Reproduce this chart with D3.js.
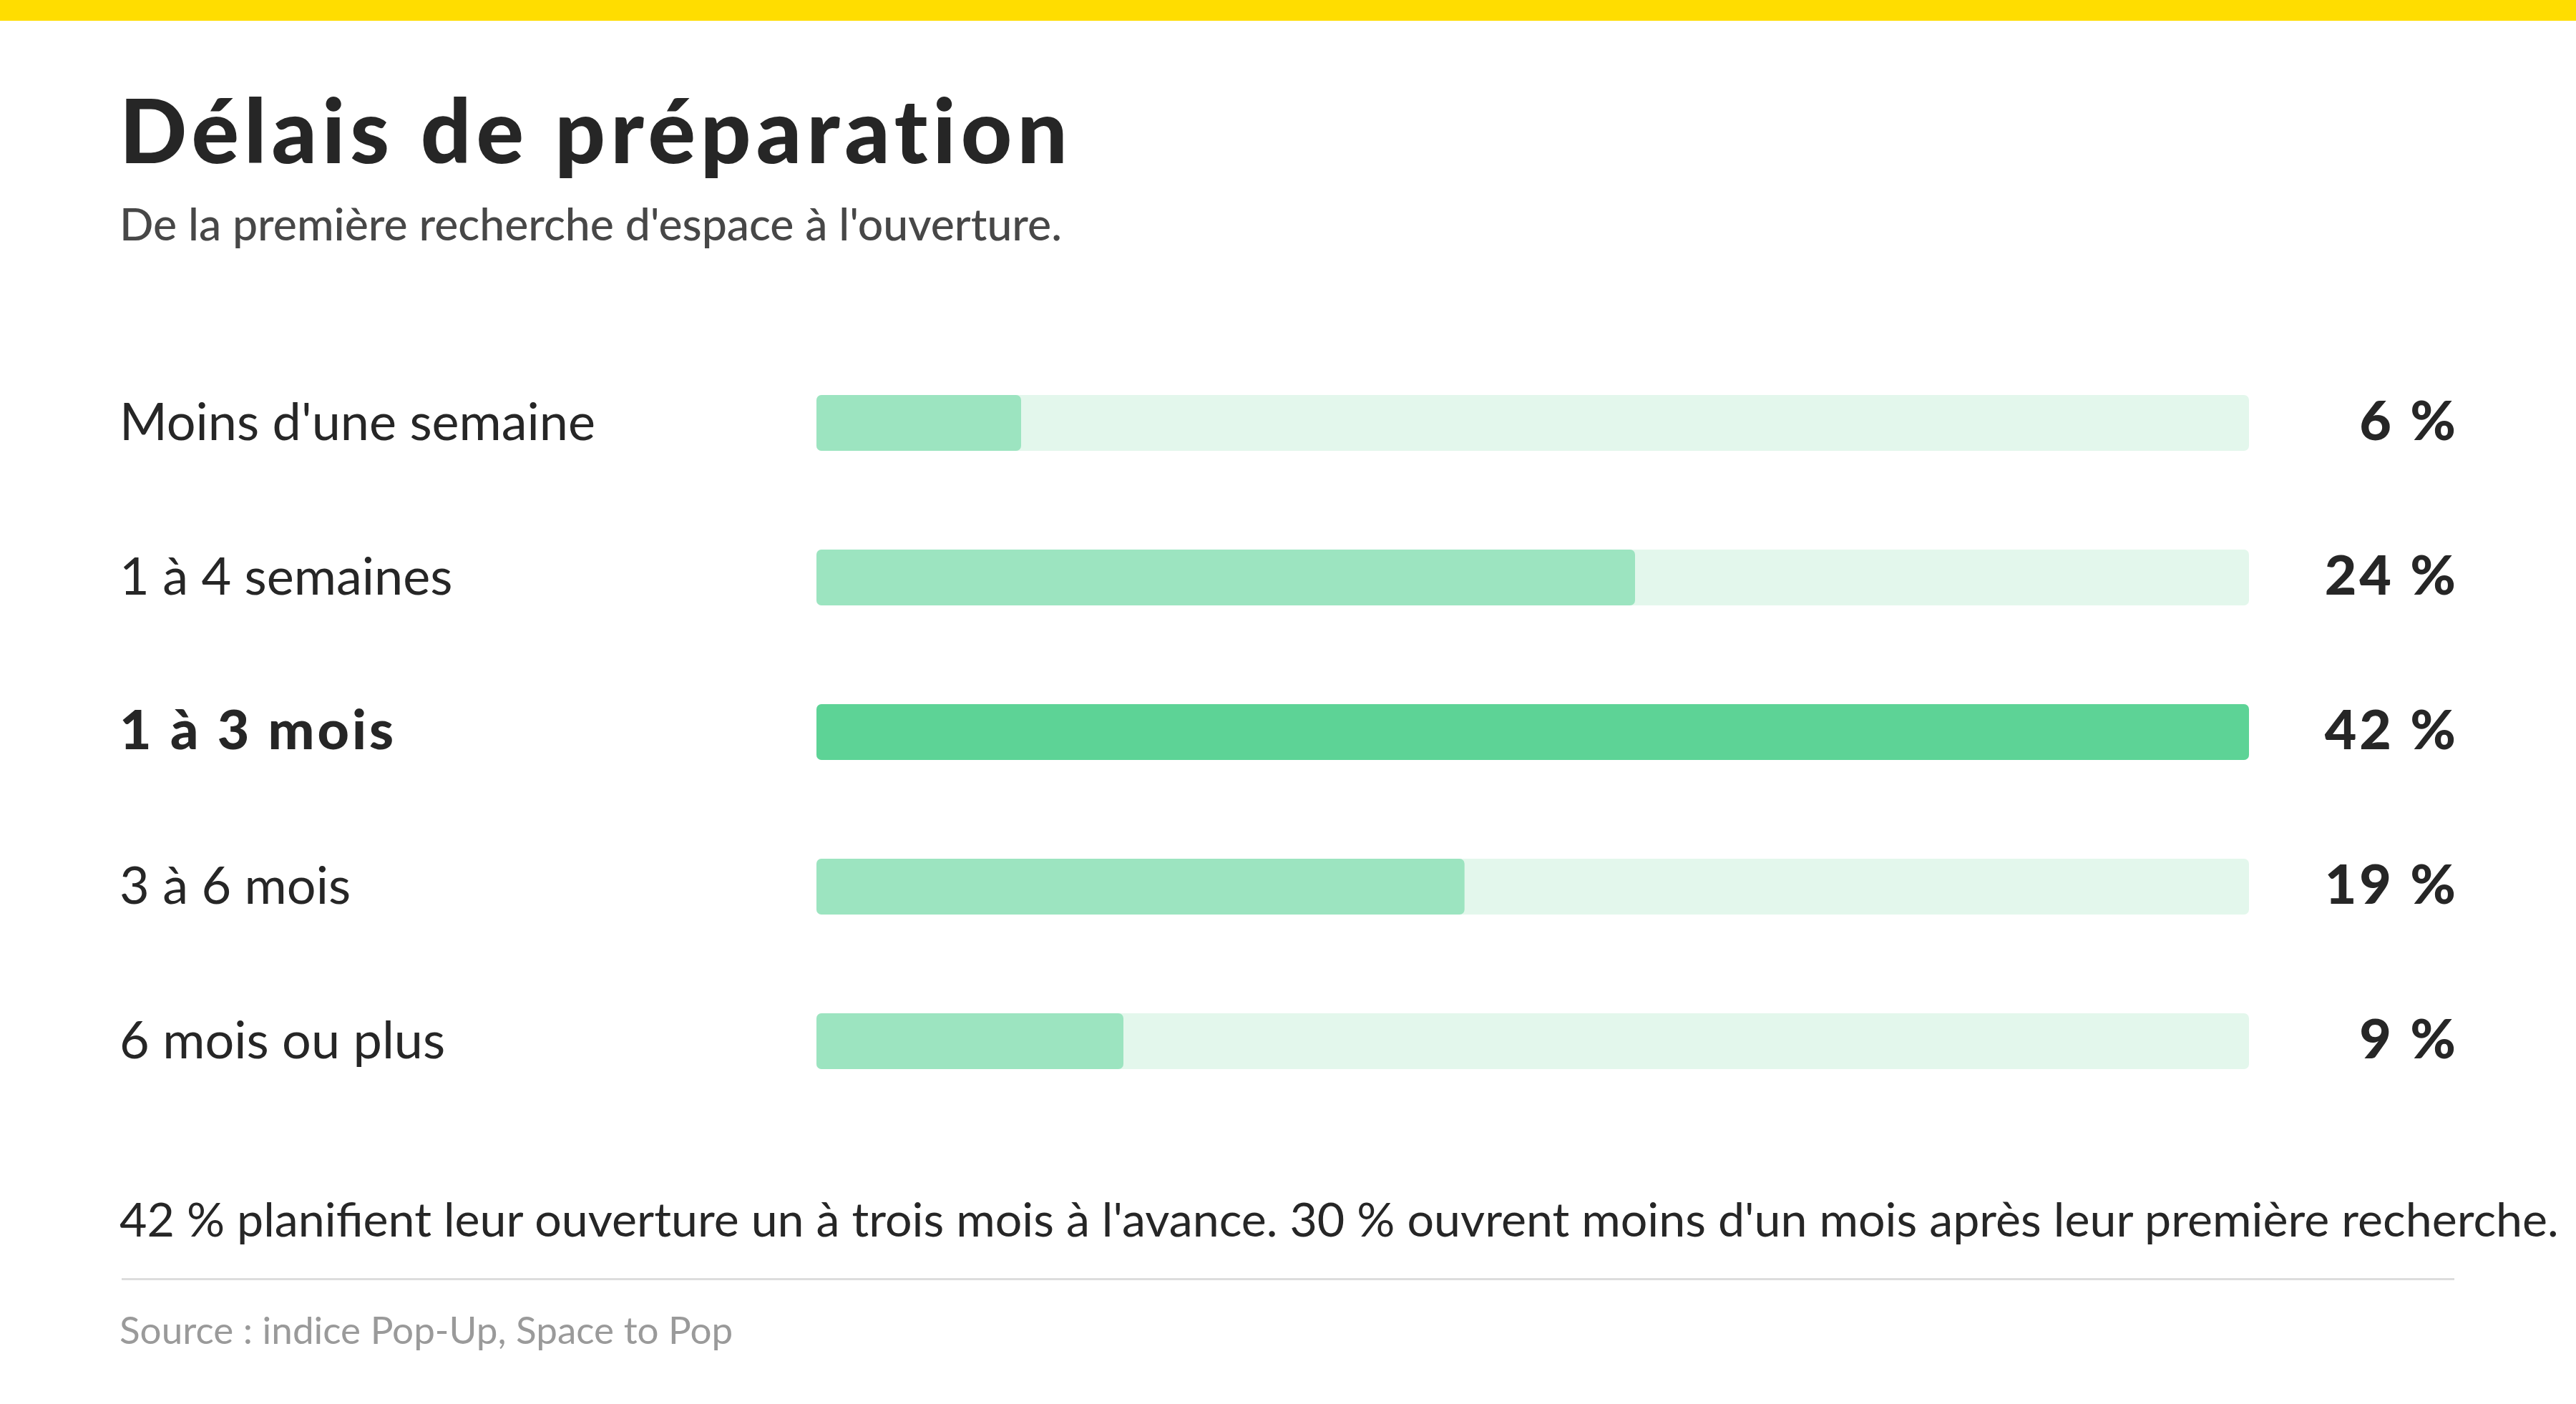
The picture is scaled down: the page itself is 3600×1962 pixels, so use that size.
<!DOCTYPE html>
<html lang="fr">
<head>
<meta charset="utf-8">
<script src="https://cdn.jsdelivr.net/npm/d3@7"></script>
<style>
  html, body { margin: 0; padding: 0; background: #ffffff; }
  svg { display: block; }
  text { font-family: "Lato", "Open Sans", sans-serif; }
</style>
</head>
<body>
<svg id="chart" width="3600" height="1962"></svg>
<script>
// ---- data ----
const categories = ["Moins d'une semaine", "1 à 4 semaines", "1 à 3 mois", "3 à 6 mois", "6 mois ou plus"];
const values = [6, 24, 42, 19, 9];
const valueLabels = ["6 %", "24 %", "42 %", "19 %", "9 %"];
const highlighted = ["1 à 3 mois"];
const titleText = "Délais de préparation";
const subtitleText = "De la première recherche d'espace à l'ouverture.";
const noteText = "42 % planifient leur ouverture un à trois mois à l'avance. 30 % ouvrent moins d'un mois après leur première recherche.";
const sourceText = "Source : indice Pop-Up, Space to Pop";

// ---- layout ----
const W = 3600, H = 1962;
const left = 167;
const svg = d3.select("#chart");

svg.append("rect").attr("x", 0).attr("y", 0).attr("width", W).attr("height", 29).attr("fill", "#FFDD00");

svg.append("text").attr("x", left).attr("y", 228)
  .attr("font-size", 124).attr("font-weight", 900).attr("letter-spacing", 7).attr("fill", "#262626")
  .text(titleText);

svg.append("text").attr("x", left).attr("y", 336)
  .attr("font-size", 62.5).attr("font-weight", 500).attr("fill", "#474747")
  .text(subtitleText);

const x = d3.scaleLinear().domain([0, d3.max(values)]).range([1141, 3143]);
const y = d3.scaleBand().domain(categories).range([552, 1494]).paddingInner(138 / 216).paddingOuter(0);

const rows = svg.append("g").selectAll("g").data(categories).join("g")
  .attr("transform", d => `translate(0,${y(d)})`);

rows.append("rect").attr("x", x(0)).attr("y", 0)
  .attr("width", x(d3.max(values)) - x(0)).attr("height", y.bandwidth())
  .attr("rx", 7).attr("fill", "#E3F7EC");

rows.append("rect").attr("x", x(0)).attr("y", 0)
  .attr("width", (d, i) => x(values[i]) - x(0)).attr("height", y.bandwidth())
  .attr("rx", 7)
  .attr("fill", d => highlighted.includes(d) ? "#5DD396" : "#9CE4C0");

rows.append("text").attr("x", left).attr("y", y.bandwidth() / 2 + 24)
  .attr("font-size", d => highlighted.includes(d) ? 77 : 72)
  .attr("font-weight", d => highlighted.includes(d) ? 900 : 400)
  .attr("letter-spacing", d => highlighted.includes(d) ? 4 : 0)
  .attr("fill", "#262626")
  .text(d => d);

rows.append("text").attr("x", 3436).attr("y", y.bandwidth() / 2 + 24)
  .attr("text-anchor", "end")
  .attr("font-size", 77).attr("font-weight", 900).attr("letter-spacing", 4).attr("fill", "#262626")
  .text((d, i) => valueLabels[i]);

svg.append("text").attr("x", left).attr("y", 1728)
  .attr("font-size", 66.3).attr("font-weight", 400).attr("fill", "#262626")
  .text(noteText);

svg.append("line").attr("x1", 170).attr("x2", 3430).attr("y1", 1787.5).attr("y2", 1787.5)
  .attr("stroke", "#DDDDDD").attr("stroke-width", 3);

svg.append("text").attr("x", left).attr("y", 1878)
  .attr("font-size", 53).attr("font-weight", 400).attr("fill", "#9A9A9A")
  .text(sourceText);
</script>
</body>
</html>
